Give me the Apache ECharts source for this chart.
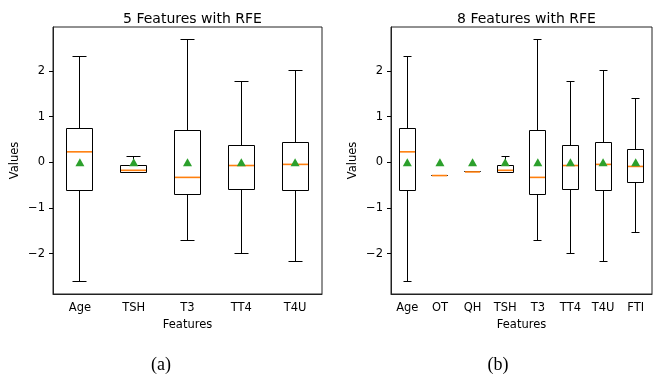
<!DOCTYPE html>
<html>
<head>
<meta charset="utf-8">
<script src="https://cdn.jsdelivr.net/npm/echarts@6/dist/echarts.min.js"></script>
<style>
  html, body { margin: 0; padding: 0; background: #fff; }
  #chart { width: 660px; height: 375px; }
</style>
</head>
<body>
<div id="chart"></div>
<script>
// panel (a): 5 features
var features5 = ['Age', 'TSH', 'T3', 'TT4', 'T4U'];
var low5 = [-2.62, -0.23, -1.72, -1.99, -2.175];
var q1_5 = [-0.61, -0.23, -0.70, -0.60, -0.62];
var median5 = [0.23, -0.175, -0.33, -0.07, -0.045];
var q3_5 = [0.75, -0.08, 0.69, 0.36, 0.445];
var high5 = [2.32, 0.13, 2.70, 1.77, 2.01];
var mean5 = [0, 0, 0, 0, 0];

// panel (b): 8 features
var features8 = ['Age', 'OT', 'QH', 'TSH', 'T3', 'TT4', 'T4U', 'FTI'];
var low8 = [-2.62, -0.29, -0.21, -0.23, -1.72, -1.99, -2.175, -1.53];
var q1_8 = [-0.61, -0.29, -0.21, -0.23, -0.70, -0.60, -0.62, -0.44];
var median8 = [0.23, -0.29, -0.21, -0.175, -0.33, -0.07, -0.045, -0.09];
var q3_8 = [0.75, -0.29, -0.21, -0.08, 0.69, 0.36, 0.445, 0.29];
var high8 = [2.32, -0.29, -0.21, 0.13, 2.70, 1.77, 2.01, 1.39];
var mean8 = [0, 0, 0, 0, 0, 0, 0, 0];

var yTicks = [-2, -1, 0, 1, 2];
var titles = ['5 Features with RFE', '8 Features with RFE'];
var captions = ['(a)', '(b)'];

var FONT = 'DejaVu Sans';
var EDGE = '#222';

function boxData(low, q1, med, q3, high) {
  return low.map(function (v, i) {
    return [i, v, q1[i], med[i], q3[i], high[i]];
  });
}

function meanData(mean) {
  return mean.map(function (v, i) { return [i, v]; });
}

function crisp(v) {
  return Math.round(v - 0.5) + 0.5;
}

function renderBox(params, api) {
  var i = api.value(0);
  var band = api.size([1, 0])[0];
  var half = band * 0.25, capHalf = band * 0.125;
  var cx = crisp(api.coord([i, 0])[0]);
  var yLow = crisp(api.coord([i, api.value(1)])[1]);
  var yQ1 = crisp(api.coord([i, api.value(2)])[1]);
  var yMed = api.coord([i, api.value(3)])[1];
  var yQ3 = crisp(api.coord([i, api.value(4)])[1]);
  var yHigh = crisp(api.coord([i, api.value(5)])[1]);
  var x0 = crisp(cx - half), x1 = crisp(cx + half);
  var line = { stroke: '#000', lineWidth: 1 };
  function seg(a, b, c, d, style) {
    return { type: 'line', shape: { x1: a, y1: b, x2: c, y2: d }, style: style || line };
  }
  return {
    type: 'group',
    children: [
      { type: 'rect', shape: { x: x0, y: yQ3, width: x1 - x0, height: yQ1 - yQ3 },
        style: { fill: 'none', stroke: '#000', lineWidth: 1 } },
      seg(cx, yQ1, cx, yLow),
      seg(cx, yQ3, cx, yHigh),
      seg(crisp(cx - capHalf), yLow, crisp(cx + capHalf), yLow),
      seg(crisp(cx - capHalf), yHigh, crisp(cx + capHalf), yHigh),
      seg(x0 + 0.5, yMed, x1 - 0.5, yMed, { stroke: '#ff7f0e', lineWidth: 1.6 })
    ]
  };
}

function minusFmt(v) {
  return String(v).replace('-', '\u2212');
}

var grids = [
  { left: 53, top: 27, width: 269, height: 267 },
  { left: 391, top: 27, width: 261, height: 267 }
];

var option = {
  animation: false,
  backgroundColor: '#fff',
  title: titles.map(function (t, k) {
    return {
      text: t,
      left: grids[k].left + grids[k].width / 2,
      textAlign: 'center',
      top: 7,
      textStyle: { fontFamily: FONT, fontSize: 14, fontWeight: 'normal', color: '#000' }
    };
  }),
  grid: grids.map(function (g) {
    return {
      left: g.left, top: g.top, width: g.width, height: g.height,
      show: true, borderColor: EDGE, borderWidth: 1, backgroundColor: 'transparent'
    };
  }),
  xAxis: [features5, features8].map(function (cats, k) {
    return {
      type: 'category',
      gridIndex: k,
      data: cats,
      name: 'Features',
      nameLocation: 'middle',
      nameGap: 24,
      nameTextStyle: { fontFamily: FONT, fontSize: 11.5, color: '#000' },
      axisLine: { onZero: false, lineStyle: { color: EDGE, width: 1 } },
      axisTick: { alignWithLabel: true, length: 4, lineStyle: { color: '#000' } },
      axisLabel: { margin: 8, fontFamily: FONT, fontSize: 11.5, color: '#000' },
      splitLine: { show: false }
    };
  }),
  yAxis: [0, 1].map(function (k) {
    return {
      type: 'value',
      gridIndex: k,
      min: -2.886,
      max: 2.966,
      name: 'Values',
      nameLocation: 'middle',
      nameGap: 32,
      nameTextStyle: { fontFamily: FONT, fontSize: 11.5, color: '#000' },
      axisLine: { show: true, onZero: false, lineStyle: { color: EDGE, width: 1 } },
      axisTick: { show: true, length: 4, customValues: yTicks, lineStyle: { color: '#000' } },
      axisLabel: { margin: 8, customValues: yTicks, fontFamily: FONT, fontSize: 11.5,
        color: '#000', formatter: minusFmt },
      splitLine: { show: false }
    };
  }),
  series: [
    {
      type: 'custom', xAxisIndex: 0, yAxisIndex: 0,
      renderItem: renderBox,
      data: boxData(low5, q1_5, median5, q3_5, high5)
    },
    {
      type: 'custom', xAxisIndex: 1, yAxisIndex: 1,
      renderItem: renderBox,
      data: boxData(low8, q1_8, median8, q3_8, high8)
    },
    {
      type: 'scatter', xAxisIndex: 0, yAxisIndex: 0, z: 5,
      symbol: 'triangle', symbolSize: [9, 8],
      itemStyle: { color: '#2ca02c', opacity: 1 },
      data: meanData(mean5)
    },
    {
      type: 'scatter', xAxisIndex: 1, yAxisIndex: 1, z: 5,
      symbol: 'triangle', symbolSize: [9, 8],
      itemStyle: { color: '#2ca02c', opacity: 1 },
      data: meanData(mean8)
    }
  ],
  graphic: captions.map(function (c, k) {
    return {
      type: 'text',
      x: k === 0 ? 161 : 498,
      y: 365,
      style: {
        text: c,
        fontFamily: 'Liberation Serif',
        fontSize: 18,
        fill: '#000',
        textAlign: 'center',
        textVerticalAlign: 'middle'
      }
    };
  })
};

var myChart = echarts.init(document.getElementById('chart'));
myChart.setOption(option);
</script>
</body>
</html>
